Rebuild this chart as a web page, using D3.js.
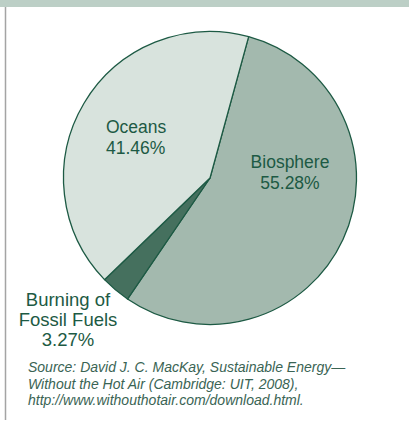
<!DOCTYPE html>
<html>
<head>
<meta charset="utf-8">
<script src="https://cdn.jsdelivr.net/npm/d3@7"></script>
<style>
  body { margin: 0; background: #fff; }
  svg text { font-family: "Liberation Sans", Arial, sans-serif; }
</style>
</head>
<body>
<div id="chart"></div>
<script>
var svgWidth = 409;
var svgHeight = 423;

// Data.
var categories = ["Biosphere", "Burning of Fossil Fuels", "Oceans"];
var shares = [55.28, 3.27, 41.46];
var labelLines = [["Biosphere", "55.28%"], ["Burning of", "Fossil Fuels", "3.27%"], ["Oceans", "41.46%"]];
var sourceLines = [
    "Source: David J. C. MacKay, Sustainable Energy\u2014",
    "Without the Hot Air (Cambridge: UIT, 2008),",
    "http://www.withouthotair.com/download.html."
];

var colors = ["#a3b9ae", "#45705e", "#d8e3dd"];
var ink = "#1d5a44";

var center = { x: 210, y: 178 };
var radius = 146.5;

var svg = d3.select("#chart")
    .append("svg")
    .attr("width", svgWidth)
    .attr("height", svgHeight);

// Top band and left rule.
svg.append("rect")
    .attr("x", 0).attr("y", 0)
    .attr("width", svgWidth).attr("height", 7)
    .attr("fill", "#bccfc6");

svg.append("line")
    .attr("x1", 5.5).attr("x2", 5.5)
    .attr("y1", 7).attr("y2", 420)
    .attr("stroke", "#a4a4a4")
    .attr("stroke-width", 1.5);

var chartGroup = svg.append("g")
    .attr("transform", `translate(${center.x}, ${center.y})`);

var pie = d3.pie()
    .sort(null)
    .value(d => d)
    .startAngle(15.3 * Math.PI / 180)
    .endAngle(15.3 * Math.PI / 180 + 2 * Math.PI);

var arc = d3.arc()
    .innerRadius(0)
    .outerRadius(radius);

var arcs = pie(shares);

chartGroup.selectAll("path")
    .data(arcs)
    .enter()
    .append("path")
    .attr("d", arc)
    .attr("fill", (d, i) => colors[i])
    .attr("stroke", ink)
    .attr("stroke-width", 1.3)
    .attr("stroke-linejoin", "round");

// Label anchors relative to the pie centre (first baseline), plus alignment.
var labelLayout = [
    { dx: 80, dy: -10, anchor: "middle", step: 21, size: 17.5 },
    { dx: -142, dy: 128, anchor: "middle", step: 20, size: 18.5 },
    { dx: -104, dy: -45, anchor: "start", step: 21, size: 17.5 }
];

arcs.forEach(function(d, i) {
    var lay = labelLayout[i];
    var t = chartGroup.append("text")
        .attr("x", lay.dx)
        .attr("y", lay.dy)
        .attr("text-anchor", lay.anchor)
        .attr("fill", ink)
        .style("font-size", lay.size + "px");
    labelLines[i].forEach(function(line, j) {
        t.append("tspan")
            .attr("x", lay.dx)
            .attr("dy", j === 0 ? 0 : lay.step)
            .text(line);
    });
});

// Source note.
svg.append("g")
    .selectAll("text")
    .data(sourceLines)
    .enter()
    .append("text")
    .attr("x", 28)
    .attr("y", (d, i) => 372 + i * 16.5)
    .attr("fill", "#3a6454")
    .style("font-size", "14px")
    .style("font-style", "italic")
    .text(d => d);
</script>
</body>
</html>
